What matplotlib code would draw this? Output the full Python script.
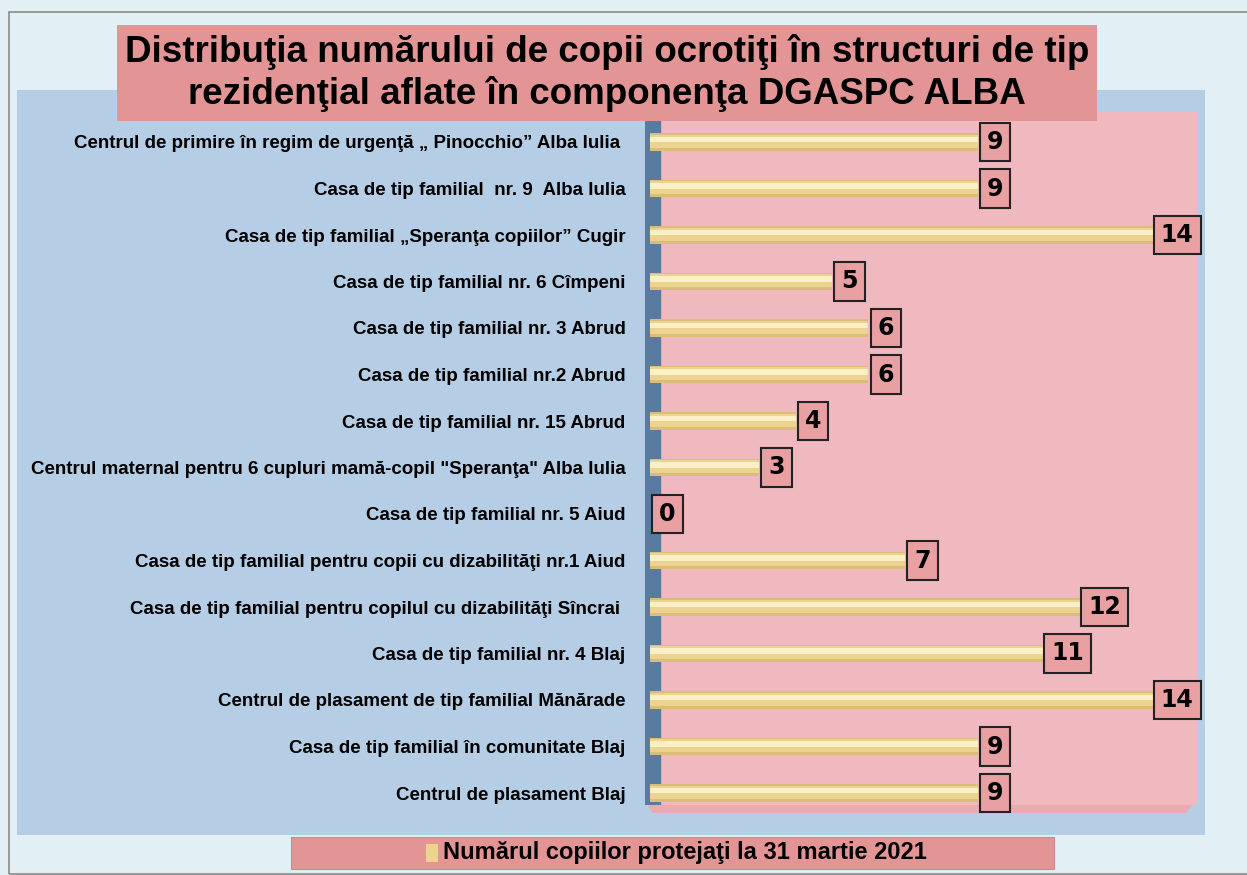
import numpy as np
import matplotlib
matplotlib.use("Agg")
import matplotlib.pyplot as plt
from matplotlib.patches import Rectangle, Polygon

W, H = 1247, 875

labels = [
    "Centrul de primire în regim de urgenţă „ Pinocchio” Alba Iulia ",
    "Casa de tip familial  nr. 9  Alba Iulia",
    "Casa de tip familial „Speranţa copiilor” Cugir",
    "Casa de tip familial nr. 6 Cîmpeni",
    "Casa de tip familial nr. 3 Abrud",
    "Casa de tip familial nr.2 Abrud",
    "Casa de tip familial nr. 15 Abrud",
    "Centrul maternal pentru 6 cupluri mamă-copil \"Speranţa\" Alba Iulia",
    "Casa de tip familial nr. 5 Aiud",
    "Casa de tip familial pentru copii cu dizabilităţi nr.1 Aiud",
    "Casa de tip familial pentru copilul cu dizabilităţi Sîncrai ",
    "Casa de tip familial nr. 4 Blaj",
    "Centrul de plasament de tip familial Mănărade",
    "Casa de tip familial în comunitate Blaj",
    "Centrul de plasament Blaj",
]
values = [9, 9, 14, 5, 6, 6, 4, 3, 0, 7, 12, 11, 14, 9, 9]

title = "Distribuţia numărului de copii ocrotiţi în structuri de tip\nrezidenţial aflate în componenţa DGASPC ALBA"
legend_txt = "Numărul copiilor protejaţi la 31 martie 2021"

BG = "#e2f0f5"
BLUE = "#b5cee6"
PINK = "#efb9bf"
TITLE_PINK = "#e39596"
BAR = "#ecd490"
BAR_HI = "#faefc6"
BOX = "#e8a0a3"


def fx(x):
    return x / W


def fy(y):
    return 1 - y / H


fig = plt.figure(figsize=(W / 100, H / 100), dpi=100)
fig.patch.set_facecolor(BG)

# outer frame + blue panel + floor
fig.patches.append(Rectangle((fx(9), fy(874)), fx(1240), 862 / H, transform=fig.transFigure,
                             facecolor="none", edgecolor="#888888", lw=1.2, zorder=-3))
fig.patches.append(Rectangle((fx(17), fy(835)), fx(1188), 745 / H, transform=fig.transFigure,
                             facecolor=BLUE, edgecolor="none", zorder=-3))
fig.patches.append(Polygon([(fx(645), fy(800)), (fx(1197), fy(800)), (fx(1186), fy(813)),
                            (fx(652), fy(813))], closed=True, transform=fig.transFigure,
                           facecolor="#e9aab2", edgecolor="none", zorder=-2))

# plot area (pink wall)
px_per_unit = 36.4
x0_px, left_px, right_px = 650, 645, 1197
top_px, bot_px = 112, 805
ax = fig.add_axes([fx(left_px), fy(bot_px), fx(right_px - left_px), (bot_px - top_px) / H])
ax.set_zorder(2)
ax.set_facecolor(PINK)
ax.set_xlim(-(x0_px - left_px) / px_per_unit, (right_px - x0_px) / px_per_unit)
row0, row_step = 142, 46.5
ax.set_ylim((bot_px - row0) / row_step, (top_px - row0) / row_step)
ax.axvspan(-(x0_px - left_px) / px_per_unit, 10 / px_per_unit, color="#5b7aa0", zorder=1)

y = np.arange(len(values))
ax.barh(y, values, height=0.38, color="#d9bd78", edgecolor="none", zorder=2)
ax.barh(y - 0.02, values, height=0.28, color=BAR, edgecolor="none", zorder=2)
ax.barh(y - 0.05, values, height=0.12, color=BAR_HI, edgecolor="none", zorder=3)

for yi, v in zip(y, values):
    ax.text(v + 0.48, yi, str(v), ha="center", va="center", fontsize=17, fontweight="bold",
            family="DejaVu Sans", zorder=5, clip_on=False,
            bbox=dict(boxstyle="square,pad=0.3", facecolor=BOX, edgecolor="#222222", lw=1.5))

ax.set_yticks(y, labels)
ax.tick_params(axis="y", length=0, pad=14)
for t in ax.get_yticklabels():
    t.set_fontweight("bold")
    t.set_family("Liberation Sans")
    t.set_fontsize(13.5)
ax.set_xticks([])
for s in ax.spines.values():
    s.set_visible(False)

# title box
fig.text(fx(607), fy(73), title, ha="center", va="center", fontsize=26.5, fontweight="bold",
         family="Liberation Sans", linespacing=1.25, zorder=5,
         bbox=dict(boxstyle="square,pad=0.22", facecolor=TITLE_PINK, edgecolor="none"))

# legend box
fig.patches.append(Rectangle((fx(291), fy(869)), fx(763), 32 / H, transform=fig.transFigure,
                             facecolor=TITLE_PINK, edgecolor="#d08888", lw=0.8, zorder=1))
fig.patches.append(Rectangle((fx(426), fy(862)), fx(12), 18 / H, transform=fig.transFigure,
                             facecolor=BAR, edgecolor="none", zorder=2))
fig.text(fx(443), fy(853), legend_txt, ha="left", va="center", fontsize=17, fontweight="bold",
         family="Liberation Sans", zorder=3)

fig.savefig("out.png", dpi=100, facecolor=fig.get_facecolor())
